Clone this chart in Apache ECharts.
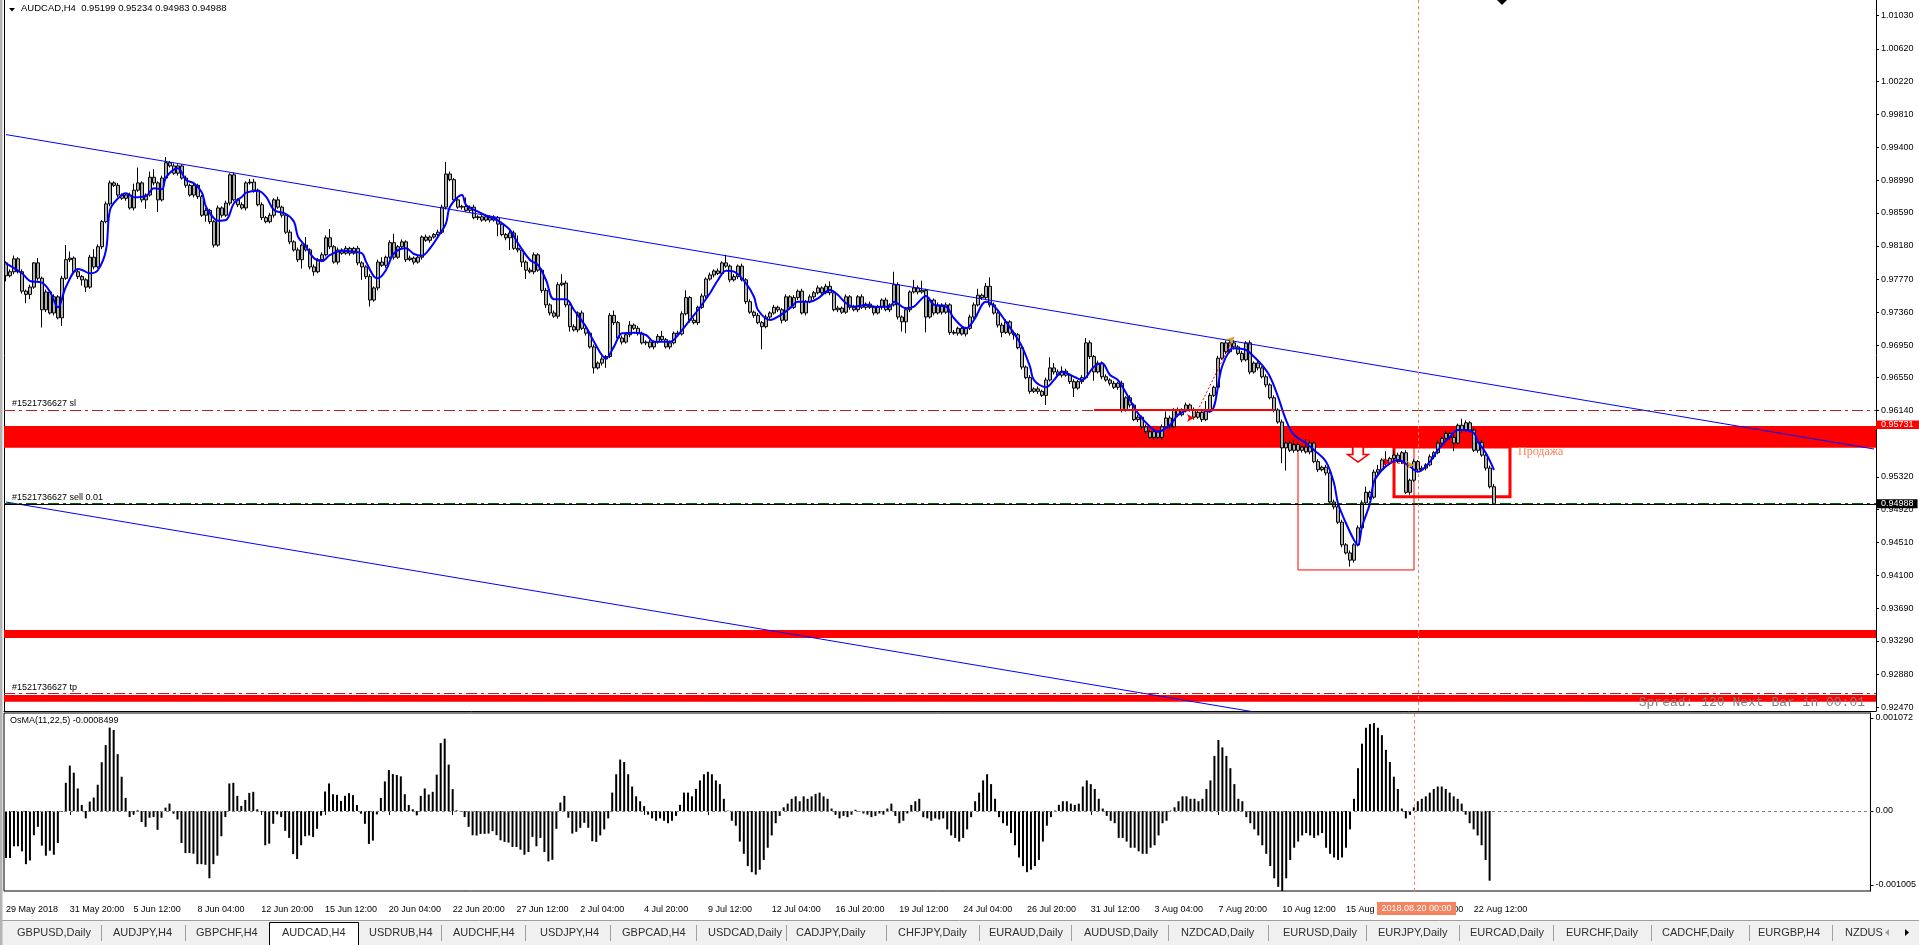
<!DOCTYPE html>
<html>
<head>
<meta charset="utf-8">
<title>AUDCAD,H4</title>
<script src="https://cdn.jsdelivr.net/npm/echarts@6/dist/echarts.min.js"></script>
<style>
html, body { margin: 0; padding: 0; background: #fff; }
#chart { width: 1919px; height: 945px; }
</style>
</head>
<body>
<div id="chart"></div>
<script>
// time scale labels, one every 16 bars
const tickLabels = ['29 May 2018', '31 May 20:00', '5 Jun 12:00', '8 Jun 04:00', '12 Jun 20:00', '15 Jun 12:00',
  '20 Jun 04:00', '22 Jun 20:00', '27 Jun 12:00', '2 Jul 04:00', '4 Jul 20:00', '9 Jul 12:00', '12 Jul 04:00',
  '16 Jul 20:00', '19 Jul 12:00', '24 Jul 04:00', '26 Jul 20:00', '31 Jul 12:00', '3 Aug 04:00', '7 Aug 20:00',
  '10 Aug 12:00', '15 Aug 04:00', '17 Aug 20:00', '22 Aug 12:00'];

// H4 closes, open of a bar = previous close
const firstOpen = 0.9797;
const closes = [
  0.9781,0.9786,0.9802,0.9786,0.9762,0.9758,0.9767,0.9797,0.9778,0.9739,
  0.9761,0.9735,0.9755,0.9729,0.9778,0.9801,0.9803,0.9786,0.9780,0.9776,
  0.9767,0.9804,0.9792,0.9817,0.9848,0.9870,0.9896,0.9893,0.9881,0.9877,
  0.9881,0.9865,0.9887,0.9896,0.9875,0.9881,0.9903,0.9896,0.9875,0.9902,
  0.9921,0.9917,0.9908,0.9917,0.9902,0.9893,0.9881,0.9893,0.9879,0.9856,
  0.9862,0.9848,0.9819,0.9865,0.9856,0.9871,0.9906,0.9875,0.9869,0.9865,
  0.9896,0.9897,0.9887,0.9869,0.9853,0.9848,0.9856,0.9875,0.9866,0.9856,
  0.9835,0.9823,0.9813,0.9801,0.9819,0.9813,0.9792,0.9786,0.9801,0.9807,
  0.9828,0.9817,0.9798,0.9813,0.9809,0.9815,0.9809,0.9815,0.9797,0.9792,
  0.9780,0.9751,0.9766,0.9798,0.9794,0.9804,0.9822,0.9804,0.9817,0.9823,
  0.9801,0.9803,0.9798,0.9804,0.9829,0.9825,0.9829,0.9832,0.9835,0.9866,
  0.9907,0.9900,0.9875,0.9866,0.9867,0.9862,0.9866,0.9853,0.9854,0.9850,
  0.9854,0.9850,0.9853,0.9845,0.9832,0.9828,0.9834,0.9815,0.9813,0.9798,
  0.9788,0.9786,0.9807,0.9788,0.9763,0.9745,0.9735,0.9731,0.9770,0.9772,
  0.9745,0.9718,0.9714,0.9735,0.9716,0.9710,0.9693,0.9667,0.9673,0.9678,
  0.9681,0.9732,0.9723,0.9704,0.9699,0.9708,0.9720,0.9716,0.9710,0.9698,
  0.9699,0.9693,0.9699,0.9706,0.9702,0.9693,0.9698,0.9710,0.9709,0.9734,
  0.9754,0.9726,0.9723,0.9742,0.9756,0.9777,0.9782,0.9787,0.9784,0.9797,
  0.9793,0.9776,0.9780,0.9793,0.9776,0.9749,0.9736,0.9732,0.9723,0.9718,
  0.9730,0.9735,0.9742,0.9739,0.9726,0.9755,0.9742,0.9754,0.9762,0.9735,
  0.9749,0.9755,0.9760,0.9766,0.9760,0.9768,0.9760,0.9739,0.9741,0.9736,
  0.9755,0.9742,0.9739,0.9755,0.9742,0.9746,0.9742,0.9735,0.9742,0.9751,
  0.9739,0.9745,0.9770,0.9730,0.9724,0.9739,0.9761,0.9766,0.9761,0.9763,
  0.9730,0.9751,0.9735,0.9745,0.9736,0.9745,0.9711,0.9710,0.9716,0.9709,
  0.9716,0.9730,0.9745,0.9757,0.9754,0.9768,0.9745,0.9735,0.9720,0.9711,
  0.9724,0.9710,0.9708,0.9692,0.9668,0.9655,0.9638,0.9641,0.9638,0.9633,
  0.9652,0.9667,0.9662,0.9658,0.9663,0.9658,0.9650,0.9642,0.9650,0.9655,
  0.9698,0.9681,0.9662,0.9673,0.9656,0.9652,0.9648,0.9643,0.9648,0.9615,
  0.9630,0.9621,0.9603,0.9606,0.9594,0.9588,0.9581,0.9588,0.9581,0.9594,
  0.9605,0.9594,0.9615,0.9609,0.9615,0.9621,0.9615,0.9606,0.9612,0.9603,
  0.9615,0.9633,0.9643,0.9679,0.9698,0.9687,0.9698,0.9693,0.9685,0.9677,
  0.9698,0.9662,0.9673,0.9667,0.9656,0.9646,0.9630,0.9615,0.9600,0.9568,
  0.9574,0.9565,0.9572,0.9565,0.9569,0.9563,0.9574,0.9551,0.9541,0.9544,
  0.9537,0.9501,0.9495,0.9476,0.9448,0.9438,0.9429,0.9448,0.9469,0.9500,
  0.9513,0.9507,0.9538,0.9541,0.9553,0.9549,0.9555,0.9559,0.9551,0.9562,
  0.9513,0.9528,0.9551,0.9541,0.9543,0.9547,0.9557,0.9562,0.9574,0.9580,
  0.9586,0.9581,0.9574,0.9596,0.9590,0.9599,0.9590,0.9565,0.9575,0.9559,
  0.9543,0.95199,0.94988
];
// wick lengths in pips above / below the body
const upWick = [
  2,3,4,2,3,2,3,1,6,2, 3,2,3,2,3,18,8,2,3,2, 2,3,10,3,2,3,3,2,3,2, 2,3,8,19,2,2,7,10,2,3,
  7,2,3,2,2,3,2,3,2,2, 3,2,2,3,2,3,2,3,2,3, 2,4,4,2,3,2,3,2,4,2, 2,3,2,3,2,10,2,3,2,3,
  3,11,2,3,2,3,2,2,3,2, 2,3,2,3,6,2,3,11,2,3, 2,3,2,3,2,3,2,2,3,3, 15,3,2,3,2,11,2,3,2,2,
  3,2,3,2,3,2,3,3,16,2, 2,3,3,2,2,3,2,3,3,11, 3,2,3,2,3,2,2,3,2,3, 2,3,6,2,3,2,5,2,3,2,
  2,3,2,3,7,2,3,2,3,3, 9,2,3,2,3,2,3,2,3,2, 10,2,3,2,3,2,3,2,3,2, 3,2,3,2,2,3,2,3,2,3,
  2,3,2,3,2,3,6,2,3,2, 3,2,3,2,3,2,3,2,3,2, 3,2,16,3,2,3,2,10,3,12, 2,3,2,3,2,3,2,3,2,3,
  2,3,3,8,2,4,11,3,2,3, 3,2,3,2,3,2,3,2,3,2, 3,13,6,3,6,3,2,3,2,3, 6,3,2,3,2,3,2,3,2,3,
  2,3,2,3,2,3,2,3,2,3, 8,3,2,3,2,3,2,3,2,3, 11,3,2,3,1,3,2,3,2,3, 2,3,2,3,2,3,2,3,2,3,
  2,3,6,3,2,10,3,2,3,2, 3,2,3,2,3,2,3,2,3,3, 7,2,3,6,2,11,2,6,3,2, 3,2,3,2,3,2,3,2,3,2,
  3,2,3,2,8,3,2,3,2,3, 2,3,3.5
];
const dnWick = [
  7,2,3,2,3,11,6,2,3,22, 3,2,3,2,10,2,3,2,3,7, 6,2,3,2,3,2,3,2,3,2, 3,2,3,2,3,11,2,3,15,2,
  3,2,2,3,2,3,2,3,3,2, 8,3,3,2,3,2,3,2,3,2, 3,2,3,2,3,2,2,3,2,3, 2,3,2,3,11,2,3,5,2,3,
  2,3,2,3,2,2,3,2,3,16, 3,8,2,3,2,3,2,3,2,3, 3,2,3,2,3,2,3,2,3,2, 3,2,3,2,3,2,3,2,3,2,
  2,3,2,15,2,3,15,2,3,6, 11,2,3,2,3,4,3,2,3,2, 3,6,2,3,2,3,2,7,2,3, 11,2,3,2,3,2,3,2,3,2,
  3,2,3,2,3,2,3,2,3,2, 2,3,2,3,2,3,2,3,2,3, 2,3,2,3,2,3,2,3,2,28, 2,3,2,3,4,2,3,2,3,2,
  3,2,3,2,3,2,3,2,3,2, 2,3,2,3,2,3,2,3,2,3, 2,3,2,3,12,14,3,2,3,2, 19,2,3,2,3,2,3,2,3,2,
  3,2,3,2,3,2,3,2,3,6, 2,3,6,2,3,2,3,2,3,2, 12,2,3,2,3,2,3,11,2,3, 2,3,11,2,3,2,3,2,3,3,
  2,3,2,3,2,3,2,3,2,3, 2,3,2,3,2,3,2,3,2,3, 2,3,2,3,2,3,2,3,2,3, 2,3,2,3,2,3,2,3,2,19,
  28,2,3,2,3,2,3,2,3,2, 3,2,3,2,3,2,8,3,2,3, 2,3,2,3,2,3,2,3,2,3, 2,3,2,3,2,3,2,3,2,3,
  2,3,10,2,3,2,3,2,3,2, 3,2,0.5
];

// blue moving average, read at these bars
const maIdx = [0,4,6,9,11,13,15,18,19,21,23,25,26,28,30,32,35,37,39,40,43,45,47,49,50,52,53,55,57,59,60,63,65,67,70,72,73,75,77,79,
  81,84,87,89,90,92,93,95,97,100,102,104,106,108,110,111,114,115,118,121,123,126,128,131,133,135,137,140,142,145,147,150,152,154,157,160,162,166,168,171,
  173,176,178,180,182,185,187,188,191,193,196,198,201,203,206,208,210,212,215,217,221,222,225,227,230,232,235,237,240,242,245,247,250,252,254,256,257,260,262,264,
  267,269,272,274,276,278,281,283,286,288,291,293,296,298,301,304,306,307,310,312,314,316,318,320,322,325,327,330,332,333,335,337,338,339,341,342,344,346,348,351,
  353,356,358,361,363,365,367,368,370,372];
const maVal = [0.97965,0.97841,0.97746,0.97725,0.97613,0.97420,0.97675,0.97894,0.97882,0.97841,0.97882,0.98129,0.98625,0.98769,0.98831,0.98782,0.98798,0.98893,0.98881,0.99029,
  0.99141,0.98996,0.98955,0.98839,0.98665,0.98522,0.98492,0.98501,0.98708,0.98789,0.98839,0.98863,0.98789,0.98625,0.98575,0.98480,0.98294,0.98170,0.98027,0.97993,
  0.98068,0.98121,0.98108,0.98089,0.97985,0.97799,0.97779,0.97882,0.98089,0.98151,0.98080,0.98059,0.98151,0.98294,0.98460,0.98665,0.98810,0.98687,0.98604,0.98534,
  0.98492,0.98377,0.98212,0.98006,0.97944,0.97758,0.97519,0.97519,0.97387,0.97180,0.96994,0.96789,0.96933,0.97098,0.97106,0.97077,0.96994,0.96994,0.97077,0.97263,
  0.97387,0.97594,0.97758,0.97873,0.97861,0.97717,0.97551,0.97387,0.97263,0.97304,0.97408,0.97490,0.97490,0.97532,0.97634,0.97572,0.97470,0.97428,0.97449,0.97428,
  0.97428,0.97490,0.97408,0.97428,0.97560,0.97449,0.97428,0.97284,0.97160,0.97263,0.97490,0.97436,0.97240,0.97098,0.96933,0.96685,0.96520,0.96430,0.96520,0.96623,
  0.96561,0.96520,0.96685,0.96727,0.96582,0.96520,0.96273,0.96108,0.95942,0.95880,0.95963,0.96087,0.96149,0.96149,0.96128,0.96685,0.96892,0.96913,0.96892,0.96809,
  0.96706,0.96561,0.96314,0.96025,0.95840,0.95737,0.95654,0.95509,0.95242,0.94994,0.94747,0.94540,0.94478,0.94705,0.94994,0.95262,0.95406,0.95489,0.95530,0.95447,
  0.95385,0.95509,0.95654,0.95819,0.95901,0.95901,0.95861,0.95757,0.95613,0.95406];

// OsMA(11,22,5) histogram
const osma = [
  -0.000574,-0.000574,-0.000430,-0.000430,-0.000492,-0.000648,-0.000603,-0.000295,-0.000193,-0.000422,
  -0.000545,-0.000484,-0.000533,-0.000390,-0.000008,0.000344,0.000554,0.000467,0.000275,0.000074,
  -0.000090,0.000115,0.000164,0.000320,0.000595,0.000804,0.001017,0.000988,0.000693,0.000418,
  0.000160,-0.000074,-0.000041,0.000008,-0.000135,-0.000193,-0.000082,-0.000074,-0.000230,-0.000082,
  0.000041,0.000090,-0.000033,-0.000103,-0.000390,-0.000513,-0.000513,-0.000521,-0.000648,-0.000648,
  -0.000656,-0.000820,-0.000648,-0.000545,-0.000308,-0.000074,0.000336,0.000344,0.000185,0.000062,
  0.000135,0.000221,0.000234,0.000021,-0.000008,-0.000418,-0.000398,-0.000156,-0.000041,-0.000074,
  -0.000242,-0.000328,-0.000525,-0.000586,-0.000418,-0.000308,-0.000299,-0.000316,-0.000217,-0.000057,
  0.000238,0.000336,0.000205,0.000197,0.000123,0.000185,0.000217,0.000193,0.000074,-0.000033,
  -0.000156,-0.000402,-0.000361,-0.000041,0.000160,0.000361,0.000500,0.000451,0.000439,0.000422,
  0.000205,0.000074,0.000021,-0.000053,0.000185,0.000275,0.000201,0.000234,0.000443,0.000828,
  0.000882,0.000566,0.000267,0.000008,-0.000008,-0.000074,-0.000193,-0.000295,-0.000299,-0.000279,
  -0.000279,-0.000275,-0.000246,-0.000295,-0.000357,-0.000377,-0.000385,-0.000439,-0.000439,-0.000472,
  -0.000533,-0.000500,-0.000316,-0.000430,-0.000328,-0.000500,-0.000615,-0.000595,-0.000217,0.000103,
  0.000185,-0.000082,-0.000275,-0.000254,-0.000205,-0.000144,-0.000205,-0.000369,-0.000377,
  -0.000298,-0.000224,-0.000090,0.000224,0.000448,0.000627,0.000597,0.000448,0.000298,0.000179,
  0.000119,0.000060,-0.000045,-0.000090,-0.000119,-0.000090,-0.000119,-0.000149,-0.000119,-0.000060,
  0.000075,0.000224,0.000224,0.000179,0.000269,0.000373,0.000448,0.000478,0.000448,0.000373,
  0.000328,0.000149,0.000005,-0.000119,-0.000179,-0.000373,-0.000522,-0.000672,-0.000746,-0.000776,
  -0.000716,-0.000597,-0.000448,-0.000298,-0.000149,-0.000060,0.000045,0.000090,0.000149,0.000179,
  0.000119,0.000179,0.000149,0.000179,0.000209,0.000224,0.000179,0.000149,0.000030,-0.000045,
  -0.000090,-0.000060,-0.000075,-0.000045,0.000015,-0.000005,-0.000030,-0.000045,-0.000075,-0.000060,
  -0.000030,-0.000045,0.000030,0.000090,-0.000060,-0.000149,-0.000119,-0.000030,0.000075,0.000119,
  0.000149,-0.000075,-0.000090,-0.000119,-0.000090,-0.000104,-0.000090,-0.000224,-0.000298,-0.000328,
  -0.000373,-0.000328,-0.000224,-0.000075,0.000119,0.000224,0.000373,0.000448,0.000328,0.000149,
  -0.000075,-0.000149,-0.000179,-0.000269,-0.000418,-0.000567,-0.000672,-0.000746,-0.000716,-0.000672,
  -0.000597,-0.000373,-0.000179,-0.000075,0.000005,0.000075,0.000119,0.000119,0.000090,0.000075,
  0.000090,0.000298,0.000373,0.000328,0.000269,0.000149,0.000030,-0.000060,-0.000119,-0.000149,
  -0.000328,-0.000328,-0.000373,-0.000448,-0.000448,-0.000492,-0.000522,-0.000522,-0.000448,-0.000418,
  -0.000298,-0.000149,-0.000119,0.000005,0.000045,0.000119,0.000179,0.000179,0.000149,0.000149,
  0.000119,0.000149,0.000269,0.000373,0.000672,0.000866,0.000776,0.000672,0.000522,0.000328,
  0.000149,0.000119,-0.000075,-0.000149,-0.000224,-0.000298,-0.000418,-0.000522,-0.000672,-0.000821,
  -0.000925,-0.001005,-0.000821,-0.000597,-0.000448,-0.000373,-0.000298,-0.000269,-0.000298,-0.000328,
  -0.000298,-0.000269,-0.000448,-0.000522,-0.000567,-0.000597,-0.000567,-0.000448,-0.000224,0.000149,
  0.000522,0.000821,0.001015,0.001060,0.001072,0.001015,0.000925,0.000746,0.000597,0.000418,
  0.000269,0.000030,-0.000090,-0.000045,0.000045,0.000119,0.000149,0.000179,0.000224,0.000269,
  0.000298,0.000298,0.000269,0.000224,0.000179,0.000149,0.000090,-0.000045,-0.000149,-0.000224,
  -0.000298,-0.000418,-0.000597,-0.000850
];

// right price scale labels
const priceTicks = [1.0103, 1.0062, 1.0022, 0.9981, 0.9940, 0.9899, 0.9859, 0.9818, 0.9777, 0.9736, 0.9695,
  0.9655, 0.9614, 0.9532, 0.9492, 0.9451, 0.9410, 0.9369, 0.9329, 0.9288, 0.9247];
const osmaTicks = [0.001134, 0, -0.000902];
const osmaTickText = ['0.001072', '0.00', '-0.001005'];

// chart objects
const slLevel = 0.96145;
const tpLevel = 0.92642;
const orderLevel = 0.94996;
const bidLevel = 0.94988;
const bandUpper = [0.95951, 0.95682];
const bandLower = [0.93426, 0.93327];
const bandTp = [0.92621, 0.92538];
const trendUpper = [[0, 0.99558], [467, 0.95666]];
const trendLower = [[0, 0.95010], [330, 0.92262]];
const boxWide = [[323, 0.95690], [352, 0.94169]];
const boxSell = [[347, 0.95690], [376, 0.95076]];
const redSegment = [[272, 0.96155], [317, 0.96155]];
const trade1 = [[297, 0.96050], [307, 0.97053]];
const trade2 = [[346, 0.95505], [352, 0.95468]];
const arrowDown = [338, 0.95598];
const cursorBar = 353;

const FONT = 'Liberation Sans';
const N = 468;
const cats = [];
for (let i = 0; i < N; i++) cats.push(String(i));

const candles = closes.map((c, i) => {
  const o = i === 0 ? firstOpen : closes[i - 1];
  const h = Math.max(o, c) + upWick[i] * 0.0001;
  const l = Math.min(o, c) - dnWick[i] * 0.0001;
  return [o, c, l, h];
});
const maLine = maIdx.map((x, k) => [x, maVal[k]]);
const dashDot = [11, 4, 3, 4];
const showTick = (i) => i % 16 === 0 && i / 16 < tickLabels.length;

const tabs = [['GBPUSD,Daily', 17], ['AUDJPY,H4', 113], ['GBPCHF,H4', 196], ['AUDCAD,H4', 282], ['USDRUB,H4', 369],
  ['AUDCHF,H4', 453], ['USDJPY,H4', 540], ['GBPCAD,H4', 622], ['USDCAD,Daily', 708], ['CADJPY,Daily', 796],
  ['CHFJPY,Daily', 898], ['EURAUD,Daily', 989], ['AUDUSD,Daily', 1084], ['NZDCAD,Daily', 1181], ['EURUSD,Daily', 1283],
  ['EURJPY,Daily', 1378], ['EURCAD,Daily', 1470], ['EURCHF,Daily', 1566], ['CADCHF,Daily', 1662], ['EURGBP,H4', 1758],
  ['NZDUS', 1845]];
const tabSeps = [101, 185, 441, 525, 610, 696, 786, 886, 979, 1071, 1168, 1268, 1366, 1459, 1553, 1651, 1749, 1832];

const graphics = [
  { type: 'rect', shape: { x: 0, y: 0, width: 2.5, height: 945 }, style: { fill: '#b4b4b4' }, z: 50 },
  { type: 'polygon', shape: { points: [[9, 8], [15, 8], [12, 11.5]] }, style: { fill: '#000' }, z: 50 },
  { type: 'text', x: 21, y: 8, style: { text: 'AUDCAD,H4  0.95199 0.95234 0.94983 0.94988', font: '9.5px ' + FONT, fill: '#000', verticalAlign: 'middle' }, z: 50 },
  { type: 'polygon', shape: { points: [[1497, 0], [1507, 0], [1502, 5]] }, style: { fill: '#000' }, z: 50 },
  { type: 'text', x: 12, y: 404, style: { text: '#1521736627 sl', font: '9px ' + FONT, fill: '#000', verticalAlign: 'middle' }, z: 50 },
  { type: 'text', x: 12, y: 498, style: { text: '#1521736627 sell 0.01', font: '9px ' + FONT, fill: '#000', verticalAlign: 'middle' }, z: 50 },
  { type: 'text', x: 12, y: 688, style: { text: '#1521736627 tp', font: '9px ' + FONT, fill: '#000', verticalAlign: 'middle' }, z: 50 },
  { type: 'text', x: 1865, y: 703, style: { text: 'Spread: 120 Next Bar in 00:01', font: '13px "Liberation Mono"', fill: '#808080', align: 'right', verticalAlign: 'middle' }, z: 50 },
  { type: 'text', x: 1518, y: 452, style: { text: 'Продажа', font: '12px "Liberation Serif"', fill: '#ff8059', verticalAlign: 'middle' }, z: 50 },
  { type: 'text', x: 10, y: 721, style: { text: 'OsMA(11,22,5) -0.0008499', font: '9px ' + FONT, fill: '#000', verticalAlign: 'middle' }, z: 50 },
  { type: 'rect', shape: { x: 1876, y: 420.5, width: 43, height: 8.5 }, style: { fill: '#ff0000' }, z: 50 },
  { type: 'text', x: 1881, y: 425, style: { text: '0.95731', font: '9px ' + FONT, fill: '#fff', verticalAlign: 'middle' }, z: 51 },
  { type: 'rect', shape: { x: 1377, y: 902, width: 79, height: 13 }, style: { fill: '#f4845f' }, z: 50 },
  { type: 'text', x: 1416.5, y: 908.5, style: { text: '2018.08.20 00:00', font: '9px ' + FONT, fill: '#fff', align: 'center', verticalAlign: 'middle' }, z: 51 },
  { type: 'rect', shape: { x: 0, y: 920, width: 1919, height: 25 }, style: { fill: '#f0f0f0' }, z: 40 },
  { type: 'line', shape: { x1: 0, y1: 920.5, x2: 1919, y2: 920.5 }, style: { stroke: '#a0a0a0', lineWidth: 1 }, z: 41 },
  { type: 'rect', shape: { x: 269.5, y: 922.5, width: 89, height: 24 }, style: { fill: '#fff', stroke: '#000', lineWidth: 1 }, z: 42 },
  { type: 'polygon', shape: { points: [[1889, 929], [1889, 936], [1885, 932.5]] }, style: { fill: '#a0a0a0' }, z: 43 },
  { type: 'polygon', shape: { points: [[1905, 929], [1905, 936], [1909, 932.5]] }, style: { fill: '#000' }, z: 43 }
];
tabs.forEach(([t, x]) => graphics.push({ type: 'text', x: x, y: 933, style: { text: t, font: '11px ' + FONT, fill: '#303030', verticalAlign: 'middle' }, z: 43 }));
tabSeps.forEach((x) => graphics.push({ type: 'line', shape: { x1: x + 0.5, y1: 925, x2: x + 0.5, y2: 941 }, style: { stroke: '#a0a0a0', lineWidth: 1 }, z: 43 }));

const chart = echarts.init(document.getElementById('chart'));
const option = {
  animation: false,
  backgroundColor: '#fff',
  grid: [
    { left: 4, top: 0, width: 1872, height: 711, show: false },
    { left: 4, top: 713, width: 1872, height: 178, show: true, borderColor: '#000', borderWidth: 1, backgroundColor: 'transparent' }
  ],
  xAxis: [
    { type: 'category', gridIndex: 0, data: cats, boundaryGap: true,
      axisLine: { show: true, lineStyle: { color: '#000', width: 1 } }, axisTick: { show: false }, axisLabel: { show: false }, splitLine: { show: false } },
    { type: 'category', gridIndex: 1, data: cats, boundaryGap: true,
      axisLine: { show: false },
      axisTick: { show: true, alignWithLabel: true, length: 4, interval: (i) => showTick(i), lineStyle: { color: '#000' } },
      axisLabel: { interval: (i) => showTick(i), formatter: (v) => tickLabels[parseInt(v, 10) / 16] || '', align: 'left',
        margin: 14, fontSize: 9, fontFamily: FONT, color: '#000' },
      splitLine: { show: false } }
  ],
  yAxis: [
    { type: 'value', gridIndex: 0, position: 'right', min: 0.92423, max: 1.01224, scale: true,
      axisLine: { show: true, lineStyle: { color: '#000' } },
      axisTick: { show: true, length: 3, customValues: priceTicks, lineStyle: { color: '#000' } },
      axisLabel: { customValues: priceTicks, formatter: (v) => v.toFixed(5), fontSize: 9, fontFamily: FONT, color: '#000', margin: 5 },
      splitLine: { show: false } },
    { type: 'value', gridIndex: 0, position: 'left', min: 0, max: 1,
      axisLine: { show: true, lineStyle: { color: '#000' } }, axisTick: { show: false }, axisLabel: { show: false }, splitLine: { show: false } },
    { type: 'value', gridIndex: 1, position: 'right', min: -0.00097561, max: 0.0011951,
      axisLine: { show: true, lineStyle: { color: '#000' } },
      axisTick: { show: true, length: 3, customValues: osmaTicks, lineStyle: { color: '#000' } },
      axisLabel: { customValues: osmaTicks, formatter: (v) => osmaTickText[osmaTicks.findIndex((t) => Math.abs(t - v) < 1e-7)] || '',
        fontSize: 9, fontFamily: FONT, color: '#000', margin: 5 },
      splitLine: { show: false } }
  ],
  graphic: { elements: graphics },
  series: [
    { // background bands and order lines
      type: 'line', xAxisIndex: 0, yAxisIndex: 0, data: [], z: 1, silent: true,
      markArea: { silent: true, itemStyle: { color: '#ff0000' },
        data: [
          [{ yAxis: bandUpper[0] }, { yAxis: bandUpper[1] }],
          [{ yAxis: bandLower[0] }, { yAxis: bandLower[1] }],
          [{ yAxis: bandTp[0] }, { yAxis: bandTp[1] }]
        ] },
      markLine: { silent: true, precision: 6, symbol: ['none', 'none'], label: { show: false },
        data: [
          { yAxis: slLevel, lineStyle: { color: '#b22222', width: 1, type: dashDot } },
          { yAxis: tpLevel, lineStyle: { color: '#b22222', width: 1, type: dashDot } },
          { yAxis: orderLevel, lineStyle: { color: '#006400', width: 1, type: dashDot } },
          { yAxis: bidLevel, lineStyle: { color: '#000', width: 1, type: 'solid' },
            label: { show: true, position: 'end', distance: 1, formatter: '0.94988', color: '#fff', backgroundColor: '#000',
              fontSize: 9, fontFamily: FONT, padding: [0, 4, 0, 4], lineHeight: 9 } },
          { xAxis: cursorBar, lineStyle: { color: '#ff7f50', width: 1, type: [3, 3] } }
        ] }
    },
    {
      name: 'AUDCAD,H4', type: 'candlestick', xAxisIndex: 0, yAxisIndex: 0, data: candles, barWidth: 3, z: 2,
      itemStyle: { color: '#b0b0b0', color0: '#b0b0b0', borderColor: '#000', borderColor0: '#000', borderWidth: 1 }
    },
    {
      name: 'trendUpper', type: 'line', xAxisIndex: 0, yAxisIndex: 0, data: trendUpper, symbol: 'none', z: 3,
      lineStyle: { color: '#0000ff', width: 1 }
    },
    {
      name: 'trendLower', type: 'line', xAxisIndex: 0, yAxisIndex: 0, data: trendLower, symbol: 'none', z: 3, clip: true,
      lineStyle: { color: '#0000ff', width: 1 }
    },
    {
      name: 'MA', type: 'line', xAxisIndex: 0, yAxisIndex: 0, data: maLine, symbol: 'none', smooth: 0.35, z: 4,
      lineStyle: { color: '#0000ff', width: 2 }
    },
    { // objects on top
      type: 'line', xAxisIndex: 0, yAxisIndex: 0, data: [], z: 5, silent: true,
      markArea: { silent: true,
        data: [
          [{ coord: boxWide[0], itemStyle: { color: 'rgba(0,0,0,0)', borderColor: '#ff0000', borderWidth: 1 } }, { coord: boxWide[1] }],
          [{ coord: boxSell[0], itemStyle: { color: 'rgba(0,0,0,0)', borderColor: '#ff0000', borderWidth: 3 } }, { coord: boxSell[1] }]
        ] },
      markLine: { silent: true, precision: 6, symbol: ['none', 'none'], label: { show: false },
        data: [
          [{ coord: redSegment[0], lineStyle: { color: '#ff0000', width: 2, type: 'solid' } }, { coord: redSegment[1] }],
          [{ coord: trade1[0], lineStyle: { color: '#ff0000', width: 1, type: [2, 2] } }, { coord: trade1[1] }],
          [{ coord: trade2[0], lineStyle: { color: '#ff0000', width: 1, type: [2, 2] } }, { coord: trade2[1] }]
        ] },
      markPoint: { silent: true, label: { show: false },
        data: [
          { coord: arrowDown, symbol: 'path://M3,0 L9,0 L9,6 L12,6 L6,12 L0,6 L3,6 Z', symbolSize: [21, 15],
            itemStyle: { color: '#fff', borderColor: '#ff0000', borderWidth: 1.5 } },
          { coord: trade1[0], symbol: 'arrow', symbolSize: [6, 7], symbolRotate: -90, itemStyle: { color: '#ff0000' } },
          { coord: trade1[1], symbol: 'arrow', symbolSize: [6, 7], symbolRotate: -45, itemStyle: { color: '#daa520' } },
          { coord: trade2[0], symbol: 'arrow', symbolSize: [6, 7], symbolRotate: -90, itemStyle: { color: '#ff0000' } },
          { coord: trade2[1], symbol: 'arrow', symbolSize: [6, 7], symbolRotate: -90, itemStyle: { color: '#daa520' } }
        ] }
    },
    {
      name: 'OsMA', type: 'bar', xAxisIndex: 1, yAxisIndex: 2, data: osma, barWidth: 2, itemStyle: { color: '#000' },
      markLine: { silent: true, precision: 8, symbol: ['none', 'none'], label: { show: false },
        data: [
          { yAxis: 0, lineStyle: { color: '#808080', width: 1, type: [3, 3] } },
          { xAxis: cursorBar, lineStyle: { color: '#ff7f50', width: 1, type: [3, 3] } }
        ] }
    }
  ]
};
chart.setOption(option);
</script>
</body>
</html>
